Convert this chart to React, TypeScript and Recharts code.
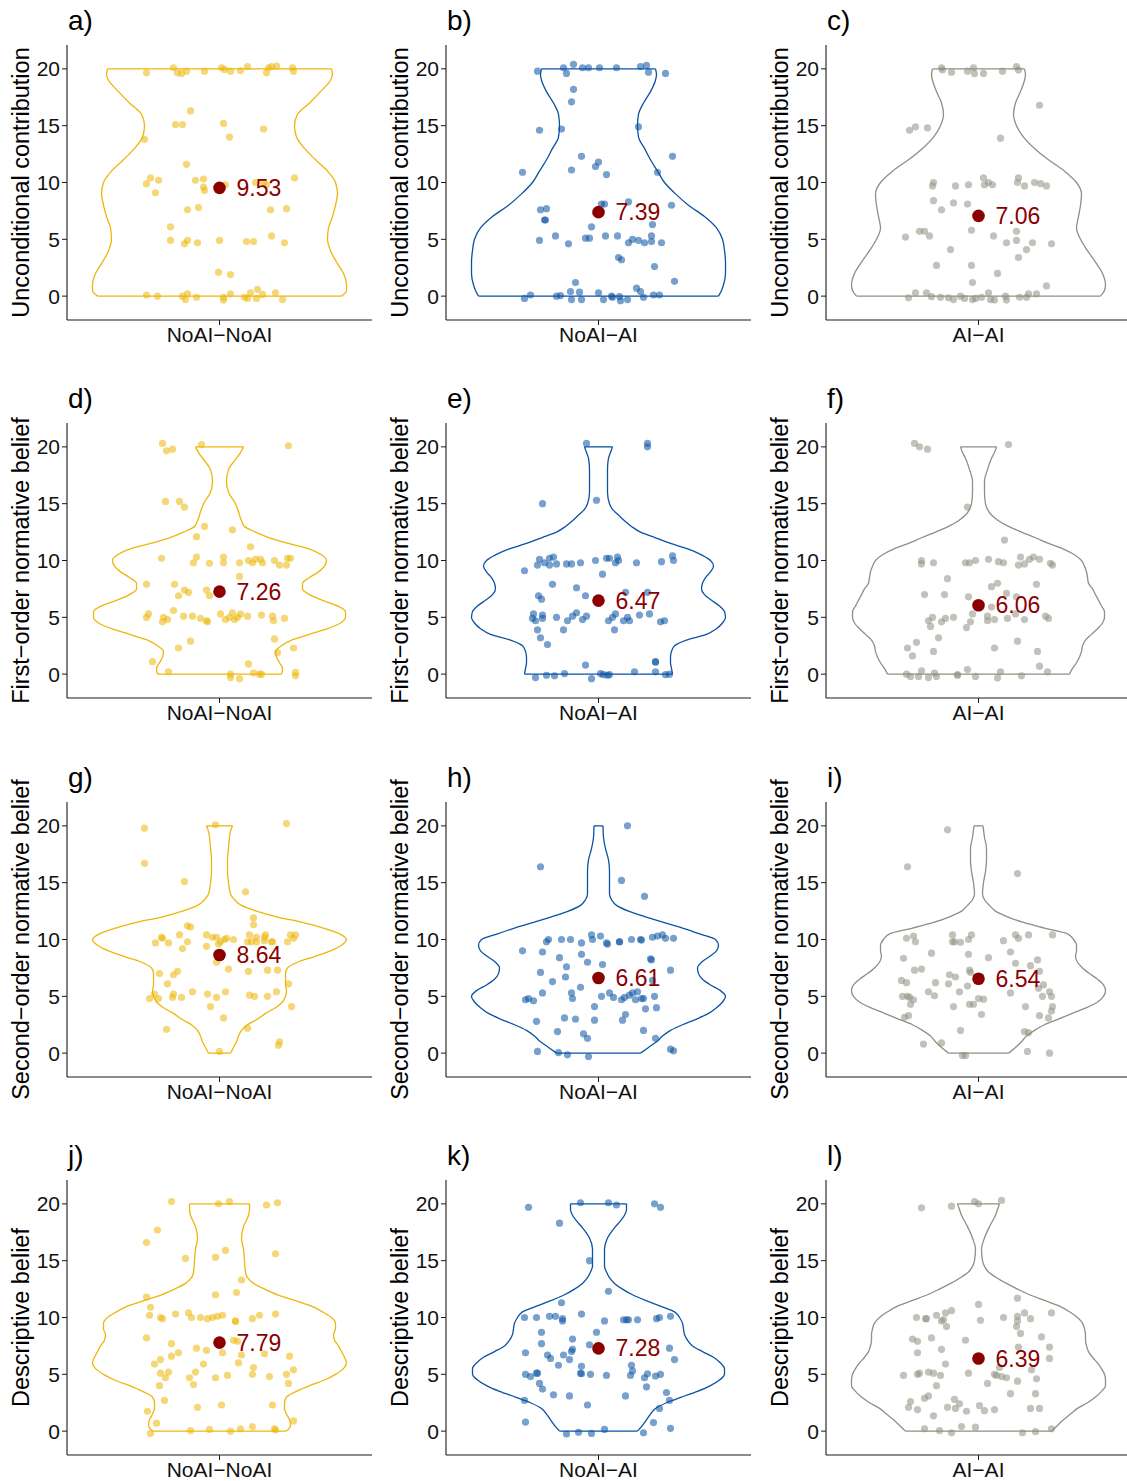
import { ComposedChart, Line, Scatter, XAxis, YAxis } from "recharts";

const FONT = '"Liberation Sans", Arial, Helvetica, sans-serif';

const GROUPS = ["NoAI\u2212NoAI", "NoAI\u2212AI", "AI\u2212AI"];
const GROUP_COLORS = ["#EDB60A", "#0A52A4", "#8F8F82"];
const MEASURES = [
  "Unconditional contribution",
  "First\u2212order normative belief",
  "Second\u2212order normative belief",
  "Descriptive belief",
];
const LETTERS = ["a)", "b)", "c)", "d)", "e)", "f)", "g)", "h)", "i)", "j)", "k)", "l)"];
const Y_TICKS = [0, 5, 10, 15, 20];
const MEANS = [9.53, 7.39, 7.06, 7.26, 6.47, 6.06, 8.64, 6.61, 6.54, 7.79, 7.28, 6.39];

// violin outlines: [score, half width]
const aViolin = [[0,122],[0.5,127],[1,127],[2,124],[3,117],[4,111],[5,108],[6,109],[7,113],[8,116],[9,118],[10,116],[11,108],[12,96],[13,85],[14,77],[15,75],[16,78],[17,90],[18,101],[19,111],[19.5,113],[20,112]];
const bViolin = [[0,120],[0.5,123],[1,125],[2,127],[3,127],[4,126],[5,124],[6,118],[7,106],[8,90],[9,77],[10,66],[11,59],[12,52],[13,46],[14,40],[15,39],[16,40],[17,45],[18,52],[19,57],[19.5,58],[20,57]];
const cViolin = [[0,122],[0.5,126],[1,127],[2,124],[3,117],[4,109],[5,102],[6,98],[7,100],[8,102],[9,103],[10,98],[11,86],[12,70],[13,56],[14,45],[15,38],[16,35],[17,37],[18,42],[19,46],[19.5,47],[20,46]];
const dViolin = [[0,62],[0.5,63],[1,60],[1.5,57],[2,56],[2.5,62],[3,72],[3.5,90],[4,108],[4.5,121],[5,126],[5.5,126],[6,118],[6.5,103],[7,90],[7.5,83],[8,83],[8.5,90],[9,99],[9.5,105],[10,107],[10.5,102],[11,90],[11.5,69],[12,50],[12.5,36],[13,25],[13.5,22],[14,20],[15,16],[16,9],[17,7],[18,9],[19,17],[19.5,21],[20,24]];
const eViolin = [[0,74],[0.5,73],[1,72],[1.5,72],[2,73],[2.5,76],[3,88],[3.5,108],[4,118],[4.5,124],[5,127],[5.5,126],[6,121],[6.5,113],[7,106],[7.5,103],[8,104],[8.5,107],[9,112],[9.5,115],[10,112],[10.5,103],[11,90],[11.5,72],[12,57],[12.5,42],[13,33],[13.5,26],[14,20],[14.5,14],[15,11],[16,9],[17,9],[18,9],[19,10],[19.5,12],[20,14]];
const fViolin = [[0,91],[0.5,94],[1,98],[1.5,101],[2,103],[2.5,104],[3,107],[3.5,113],[4,119],[4.5,124],[5,126],[5.5,126],[6,123],[6.5,120],[7,117],[7.5,114],[8,110],[8.5,109],[9,108],[9.5,106],[10,103],[10.5,96],[11,85],[11.5,70],[12,57],[12.5,43],[13,30],[13.5,20],[14,13],[14.5,9],[15,7],[16,6],[17,6],[18,9],[19,13],[19.5,16],[20,18]];
const gViolin = [[0,11],[0.5,14],[1,17],[1.5,19],[2,22],[2.5,28],[3,38],[3.5,46],[4,56],[4.5,63],[5,66],[5.5,67],[6,66],[6.5,66],[7,66],[7.5,68],[8,78],[8.5,95],[9,111],[9.5,122],[10,127],[10.5,120],[11,104],[11.5,83],[12,57],[12.5,37],[13,22],[13.5,15],[14,11],[15,9],[16,8],[17,8],[18,9],[19,10],[19.5,11],[20,13]];
const hViolin = [[0,42],[0.5,50],[1,58],[1.5,64],[2,72],[2.5,84],[3,98],[3.5,110],[4,118],[4.5,124],[5,127],[5.5,122],[6,112],[6.5,104],[7,100],[7.5,99],[8,103],[8.5,111],[9,118],[9.5,120],[10,117],[10.5,101],[11,84],[11.5,65],[12,47],[12.5,30],[13,18],[13.5,13],[14,11],[15,11],[16,11],[17,10],[18,7],[19,5],[20,4.5]];
const iViolin = [[0,30],[0.5,37],[1,43],[1.5,48],[2,56],[2.5,66],[3,80],[3.5,94],[4,108],[4.5,119],[5,125],[5.5,127],[6,125],[6.5,119],[7,111],[7.5,104],[8,99],[8.5,97],[9,98],[9.5,98],[10,95],[10.5,89],[11,66],[11.5,45],[12,29],[12.5,17],[13,11],[13.5,6],[14,4],[15,5],[16,7],[17,8],[18,8],[19,6],[20,4.5]];
const jViolin = [[0,67],[0.5,71],[1,70],[1.5,67],[2,65],[2.5,65],[3,67],[3.5,77],[4,90],[4.5,105],[5,116],[5.5,124],[6,127],[6.5,125],[7,122],[7.5,119],[8,115],[8.5,114],[9,116],[9.5,116],[10,112],[10.5,103],[11,92],[11.5,75],[12,58],[12.5,45],[13,34],[13.5,28],[14,26],[15,25],[16,24],[17,22],[18,24],[19,29],[19.5,30],[20,30]];
const kViolin = [[0,39],[0.5,44],[1,48],[1.5,52],[2,57],[2.5,68],[3,83],[3.5,99],[4,112],[4.5,121],[5,126],[5.5,126],[6,122],[6.5,115],[7,104],[7.5,94],[8,89],[8.5,86],[9,85],[9.5,84],[10,81],[10.5,76],[11,62],[11.5,47],[12,34],[12.5,24],[13,16],[13.5,11],[14,8],[14.5,6],[15,6],[16,6],[17,9],[18,17],[18.5,22],[19,26],[19.5,28],[20,28]];
const lViolin = [[0,73],[0.5,79],[1,85],[1.5,92],[2,99],[2.5,109],[3,117],[3.5,123],[4,127],[4.5,127],[5,126],[5.5,123],[6,119],[6.5,114],[7,110],[7.5,108],[8,107],[8.5,107],[9,106],[9.5,104],[10,99],[10.5,91],[11,81],[11.5,66],[12,51],[12.5,39],[13,28],[13.5,18],[14,10],[14.5,6],[15,4],[16,3],[17,6],[18,11],[19,17],[19.5,19],[20,21]];

// jittered responses: [offset, score]
const aPoints = [[-73,19.65],[-46,20.1],[-42,19.65],[-38,19.6],[-33,19.8],[-15,19.8],[2,20.1],[5,19.95],[11,19.8],[21,19.85],[28,20.2],[47,19.65],[49,20.1],[52,20.2],[57,20.25],[73,20.1],[74,19.8],[-29,16.3],[-44,15.1],[-37,15.1],[4,15.2],[10,14.0],[44,14.7],[-75,13.8],[-33,11.6],[-69,10.4],[-73,9.9],[-61,10.2],[-64,9.1],[-24,10.2],[-16,10.3],[-16,9.6],[-15,9.3],[6,9.8],[36,10.0],[44,10.0],[47,9.8],[75,10.4],[-32,7.6],[-21,7.8],[51,7.6],[67,7.7],[-49,6.1],[-49,4.9],[-35,4.6],[-32,4.9],[-22,4.7],[0,4.9],[27,4.8],[34,4.8],[52,5.3],[65,4.7],[-1,2.1],[11,1.9],[-73,0.1],[-62,0.0],[-37,0.0],[-34,-0.3],[-32,0.2],[-23,-0.1],[4,-0.1],[4,-0.35],[11,0.2],[25,-0.1],[28,-0.2],[31,0.3],[37,-0.2],[38,0.6],[43,0.15],[56,0.3],[63,-0.3]];
const bPoints = [[-61,19.8],[-35,20.1],[-32,19.6],[-25,20.4],[-16,20.1],[-10,20.1],[1,20.1],[18,20.1],[42,20.2],[48,20.3],[50,19.7],[67,19.6],[-25,18.2],[-27,17.1],[-59,14.6],[-37,14.7],[40,14.9],[-17,12.3],[0,11.8],[-3,11.4],[-27,11.1],[8,10.7],[74,12.3],[59,10.9],[-76,10.9],[3,8.1],[6,8.1],[30,8.3],[73,8.0],[-58,7.6],[-52,7.7],[-54,6.7],[-53,6.7],[-7,6.1],[54,6.3],[-59,4.9],[-43,5.3],[-30,4.6],[-13,5.1],[-9,5.1],[7,5.3],[19,5.3],[30,4.7],[34,5.0],[40,4.9],[46,4.7],[53,5.3],[53,4.8],[63,4.7],[20,3.4],[23,3.2],[56,2.6],[-23,1.2],[76,1.3],[38,0.7],[-74,-0.2],[-68,0.1],[-42,0.0],[-38,0.05],[-28,0.4],[-27,-0.3],[-19,0.35],[-17,-0.3],[0,0.3],[5,-0.3],[13,0.0],[14,-0.1],[21,-0.05],[22,-0.4],[29,-0.3],[42,0.4],[45,-0.1],[55,0.1],[61,0.1]];
const cPoints = [[-37,20.1],[-36,19.9],[-27,19.7],[-11,19.8],[-5,20.1],[-4,19.6],[5,19.6],[24,19.8],[38,20.2],[40,19.9],[61,16.8],[-69,14.6],[-63,14.9],[-51,14.8],[22,13.9],[-45,10.0],[-46,9.7],[-23,9.7],[-10,9.8],[5,10.4],[6,9.8],[10,10.0],[14,9.8],[40,10.4],[39,10.0],[46,9.7],[56,10.0],[62,9.9],[68,9.7],[-45,8.4],[-25,8.2],[-11,8.1],[-37,7.6],[-7,5.8],[-59,5.7],[-54,5.7],[-49,5.3],[-73,5.2],[15,5.3],[38,5.7],[28,4.7],[38,4.9],[54,4.7],[73,4.6],[48,4.1],[-28,4.1],[-42,2.7],[-7,2.7],[40,3.4],[19,2.0],[-6,1.2],[68,0.9],[-70,-0.15],[-63,0.3],[-52,0.3],[-47,-0.05],[-38,-0.1],[-30,-0.15],[-25,-0.3],[-18,0.0],[-14,-0.2],[-6,-0.3],[-3,-0.2],[3,-0.1],[10,0.3],[12,-0.3],[16,-0.35],[27,0.0],[28,-0.35],[41,-0.1],[48,-0.1],[50,0.2],[58,0.2]];
const dPoints = [[-57,20.3],[-53,19.65],[-47,19.8],[-18,20.2],[69,20.1],[-54,15.2],[-40,15.2],[-35,14.7],[-15,13.0],[13,12.7],[-23,12.1],[31,11.2],[-58,10.2],[-23,10.3],[-26,9.8],[-10,9.75],[4,10.3],[4,9.8],[20,9.8],[29,10.0],[33,9.8],[36,10.1],[41,10.1],[43,9.8],[55,10.0],[60,9.6],[67,9.6],[68,10.2],[71,10.2],[20,8.6],[-73,7.9],[-45,7.9],[-35,7.4],[-31,7.2],[-41,6.9],[-13,7.4],[-10,6.9],[-73,5.0],[-71,5.3],[-57,4.6],[-56,5.0],[-52,4.8],[-46,5.6],[-36,5.1],[-27,5.1],[-19,4.9],[-13,4.7],[-12,4.6],[1,5.3],[6,4.8],[10,5.0],[13,5.4],[15,4.8],[18,5.0],[21,5.3],[28,5.1],[42,5.2],[53,5.1],[54,4.7],[65,4.9],[55,3.1],[-29,2.9],[-41,2.3],[58,1.9],[74,2.3],[-67,1.1],[29,0.9],[-51,0.2],[11,0.0],[11,-0.3],[20,-0.4],[34,0.1],[40,0.0],[42,0.0],[76,0.15],[76,-0.15]];
const ePoints = [[-12,20.3],[49,20.3],[49,20.0],[-56,15.0],[-2,15.3],[-59,10.1],[-61,9.6],[-54,9.8],[-49,10.2],[-49,9.6],[-45,10.3],[-42,9.7],[-32,9.7],[-27,9.7],[-18,9.8],[-3,10.0],[8,10.2],[11,10.2],[17,9.8],[19,10.3],[20,10.0],[38,9.8],[63,9.9],[74,10.4],[75,10.0],[-74,9.1],[4,8.8],[-46,7.9],[-22,7.6],[-60,6.9],[-57,6.6],[-13,6.9],[27,7.2],[49,7.2],[-65,5.3],[-66,4.9],[-63,4.7],[-56,5.2],[-56,4.9],[-42,5.0],[-31,4.7],[-26,5.1],[-22,5.4],[-16,4.8],[-12,5.1],[10,4.7],[14,5.0],[17,5.3],[25,4.7],[29,5.0],[31,4.7],[41,5.2],[51,5.3],[62,4.6],[66,4.7],[-61,3.9],[-35,3.9],[16,3.9],[-58,3.2],[-51,2.6],[-13,0.8],[57,1.1],[57,1.05],[-63,-0.3],[-52,-0.1],[-44,-0.15],[-34,0.05],[-7,-0.4],[2,0.05],[5,-0.05],[9,-0.1],[11,-0.05],[36,0.2],[57,0.2],[67,-0.05],[71,0.0]];
const fPoints = [[-64,20.3],[-59,20.0],[-51,19.8],[30,20.2],[-11,14.7],[26,11.8],[-57,10.0],[-57,9.7],[-45,9.8],[-13,9.8],[-9,9.8],[-3,10.0],[10,10.1],[20,9.9],[25,9.8],[42,10.3],[40,9.6],[46,9.7],[51,10.1],[55,10.3],[61,10.1],[72,9.75],[74,9.6],[-31,8.4],[19,8.0],[13,7.7],[58,7.9],[-54,7.0],[-34,7.0],[-10,6.8],[28,7.1],[38,6.8],[-6,5.3],[13,5.9],[37,5.3],[9,5.1],[9,4.7],[16,4.8],[29,4.9],[46,4.8],[67,5.1],[70,4.9],[-46,5.0],[-50,4.7],[-48,4.2],[-37,4.6],[-33,4.9],[-25,5.0],[-8,4.6],[-12,4.1],[-62,2.8],[-40,3.2],[39,2.9],[-71,2.3],[-66,1.6],[-45,2.0],[16,2.3],[59,2.0],[61,0.7],[69,0.2],[-72,0.0],[-68,-0.2],[-60,-0.2],[-57,0.3],[-50,-0.3],[-44,0.1],[-42,-0.2],[-21,-0.05],[-21,-0.1],[-11,0.4],[-3,-0.2],[19,-0.35],[22,0.2],[43,-0.15]];
const gPoints = [[-75,19.8],[-4,20.1],[67,20.2],[-75,16.7],[-35,15.1],[26,14.2],[34,11.9],[34,11.3],[-32,11.2],[-29,11.1],[-58,10.2],[-57,10.1],[-64,9.7],[-51,9.7],[-40,10.4],[-32,9.8],[-37,9.2],[-13,10.4],[-13,9.4],[-7,10.2],[-3,10.2],[-1,9.6],[1,9.8],[5,10.0],[7,10.1],[14,10.0],[30,10.4],[28,9.8],[32,9.8],[37,10.2],[37,9.8],[45,10.2],[46,10.4],[45,9.9],[52,9.8],[53,9.8],[68,9.8],[71,10.4],[74,10.1],[76,10.4],[-3,8.0],[-60,7.0],[-46,6.9],[-42,7.2],[9,7.4],[29,7.2],[48,7.3],[58,7.3],[-52,6.1],[69,6.1],[-70,4.8],[-65,5.2],[-61,4.8],[-47,4.9],[-46,5.2],[-38,4.9],[-27,5.4],[-12,5.2],[-3,4.9],[6,5.4],[30,5.1],[35,5.0],[48,5.0],[57,5.4],[72,4.1],[-9,4.1],[4,3.1],[-53,2.1],[28,2.2],[60,1.0],[59,0.7],[0,0.15]];
const hPoints = [[29,20.0],[-58,16.4],[23,15.2],[46,13.8],[-52,9.8],[-50,10.0],[-37,10.0],[-28,10.0],[-17,9.7],[-7,10.4],[-6,10.0],[2,10.3],[8,9.7],[9,9.6],[21,9.8],[21,9.8],[33,10.0],[42,10.0],[43,9.95],[54,10.2],[59,10.3],[64,10.4],[67,10.1],[75,10.1],[-76,9.0],[-56,8.9],[-17,8.7],[-39,8.4],[-32,7.6],[-11,8.0],[4,7.8],[52,8.3],[53,8.2],[72,7.3],[-58,7.1],[-33,6.7],[-46,6.3],[54,6.4],[-73,4.7],[-70,4.8],[-65,4.6],[-56,5.3],[-27,5.3],[-26,4.8],[-18,5.8],[3,5.0],[11,5.3],[15,4.9],[23,4.7],[26,4.9],[31,5.1],[34,5.3],[39,5.4],[37,4.7],[43,4.8],[45,4.8],[56,5.0],[47,3.9],[58,4.0],[-4,4.1],[-62,2.8],[-34,3.1],[-23,3.0],[-4,2.9],[24,2.9],[27,3.4],[-41,1.9],[-15,1.7],[-11,1.3],[45,2.0],[57,1.3],[-61,0.15],[-40,0.05],[-31,-0.15],[-10,-0.3],[72,0.35],[75,0.2]];
const iPoints = [[-31,19.65],[-71,16.4],[39,15.8],[-72,10.1],[-65,10.3],[-63,9.8],[-26,10.4],[-26,9.8],[-24,9.8],[-18,9.75],[-10,10.0],[-7,10.4],[25,9.9],[37,10.4],[40,10.1],[50,10.4],[74,10.4],[-47,8.8],[-10,8.7],[10,8.4],[32,8.9],[-75,8.35],[37,7.9],[52,7.7],[59,8.2],[-64,7.3],[-57,7.4],[-29,6.9],[-23,6.7],[-9,7.3],[-8,7.1],[61,7.2],[-77,6.4],[-72,6.2],[-43,6.2],[-30,6.1],[-11,5.9],[65,6.0],[60,5.7],[-76,5.0],[-71,5.0],[-69,4.9],[-65,4.7],[-68,4.3],[-50,5.4],[-44,5.05],[-19,5.4],[0,4.8],[5,4.75],[-9,4.3],[-5,4.3],[-25,4.1],[32,5.3],[47,4.1],[64,5.0],[71,5.4],[73,5.0],[74,4.1],[73,3.7],[-74,3.15],[-70,3.3],[3,3.4],[61,3.3],[70,3.1],[-18,2.0],[46,1.9],[50,1.8],[-55,0.8],[-37,0.9],[49,0.15],[71,0.0],[-16,-0.2],[-13,-0.2]];
const jPoints = [[-48,20.2],[-1,20.0],[10,20.2],[47,19.9],[58,20.1],[-62,17.7],[-73,16.6],[-34,15.2],[-4,15.3],[6,15.9],[56,15.6],[22,13.3],[-4,12.0],[17,12.2],[-73,11.8],[-69,10.9],[-70,10.2],[-59,10.0],[-57,9.9],[-44,10.3],[-31,10.4],[-28,10.0],[-19,10.0],[-12,9.9],[-7,10.0],[-2,10.1],[3,10.2],[16,9.7],[16,9.65],[33,9.9],[40,10.2],[56,10.3],[-73,8.2],[-48,7.7],[14,8.0],[18,7.9],[-23,7.3],[-13,7.1],[-41,6.9],[-48,6.6],[3,6.9],[22,6.7],[45,6.8],[70,6.6],[-59,6.3],[-65,5.9],[-16,5.9],[19,6.0],[34,5.6],[-59,5.1],[-51,5.2],[-54,4.7],[-24,5.2],[-30,4.7],[-4,4.7],[8,4.9],[33,5.0],[50,4.8],[67,5.0],[74,5.4],[69,4.2],[-60,4.0],[-26,4.1],[-55,2.7],[-22,2.1],[2,2.3],[53,2.3],[-72,1.75],[-63,0.7],[74,0.9],[-69,-0.2],[-29,0.05],[-10,0.15],[11,0.0],[21,0.2],[33,0.4],[55,0.2],[56,0.1]];
const kPoints = [[-70,19.7],[-18,20.1],[10,20.1],[18,19.9],[56,20.0],[62,19.7],[-39,18.3],[-9,15.0],[10,12.3],[-37,11.3],[-74,10.0],[-62,10.0],[-49,10.1],[-43,10.1],[-36,9.9],[-36,9.7],[-17,10.3],[6,9.7],[25,9.8],[28,9.8],[30,9.8],[39,9.8],[58,9.9],[61,10.0],[72,10.1],[-57,8.7],[-2,8.7],[-57,7.7],[-26,8.1],[-9,7.6],[-26,7.2],[-27,7.0],[71,7.3],[-73,6.9],[-51,6.7],[-48,6.4],[-35,6.7],[-29,6.3],[76,6.3],[-40,5.8],[-17,5.7],[33,5.8],[34,5.3],[-73,5.0],[-68,4.8],[-62,5.1],[-61,5.1],[-18,5.1],[-17,5.05],[-8,5.0],[8,4.9],[32,4.9],[46,4.7],[49,5.05],[57,4.85],[62,5.0],[-59,4.2],[-56,3.7],[48,3.9],[68,3.4],[-74,2.7],[-45,3.2],[-29,3.1],[27,3.1],[71,2.7],[-11,2.3],[61,2.0],[-73,0.8],[55,0.75],[72,0.25],[-32,-0.25],[-20,-0.1],[-7,-0.2],[6,0.15],[45,-0.15]];
const lPoints = [[-57,19.65],[-27,19.8],[-4,20.2],[0,20.0],[23,20.3],[0,11.15],[39,11.7],[-62,10.0],[-53,9.9],[-52,9.9],[-42,10.2],[-37,9.7],[-35,9.8],[-33,10.4],[-27,10.6],[-32,9.2],[2,9.75],[25,10.0],[39,10.1],[39,9.7],[46,10.4],[52,9.9],[73,10.4],[38,9.2],[42,8.6],[-66,8.1],[-61,7.9],[-47,8.2],[-13,8.0],[63,8.3],[-61,6.9],[-37,7.2],[40,7.4],[71,7.4],[71,6.4],[-33,5.9],[21,5.6],[53,5.4],[-75,4.9],[-61,5.0],[-59,5.1],[-50,5.2],[-45,5.1],[-38,4.9],[-10,5.1],[16,5.0],[18,4.9],[23,4.8],[28,4.7],[39,4.4],[58,4.6],[9,4.2],[-42,4.0],[32,3.3],[57,3.3],[-68,2.6],[-70,2.1],[-61,1.9],[-54,2.9],[-50,3.1],[-24,2.8],[-31,2.1],[-23,2.0],[-19,2.4],[-12,1.75],[1,2.25],[6,1.8],[16,1.9],[52,2.0],[61,2.0],[-45,1.35],[-54,0.2],[-39,0.05],[-27,-0.15],[-17,0.4],[-3,0.35],[44,-0.15],[57,-0.05],[73,0.2]];

const VIOLINS = [aViolin, bViolin, cViolin, dViolin, eViolin, fViolin, gViolin, hViolin, iViolin, jViolin, kViolin, lViolin];
const POINTS = [aPoints, bPoints, cPoints, dPoints, ePoints, fPoints, gPoints, hPoints, iPoints, jPoints, kPoints, lPoints];

const COL_LEFT = [0, 379, 759];
const ROW_TOP = [0, 378, 757, 1135];
const AXIS = "#1a1a1a";
const TICK = { fill: "#111", fontSize: 21, fontFamily: FONT };

function Panel({ idx }: { idx: number }) {
  const row = Math.floor(idx / 3);
  const col = idx % 3;
  const color = GROUP_COLORS[col];
  const outline = VIOLINS[idx];
  const right = outline.map(([y, w]) => ({ x: w, y }));
  const left = outline.map(([y, w]) => ({ x: -w, y }));
  const [yLo, wLo] = outline[0];
  const [yHi, wHi] = outline[outline.length - 1];
  const bottomCap = [{ x: -wLo, y: yLo }, { x: wLo, y: yLo }];
  const topCap = [{ x: -wHi, y: yHi }, { x: wHi, y: yHi }];
  const pts = POINTS[idx].map(([x, y]) => ({ x, y }));
  const mean = [{ x: 0, y: MEANS[idx] }];
  const meanText = MEANS[idx].toFixed(2);

  return (
    <div style={{ position: "absolute", left: COL_LEFT[col], top: ROW_TOP[row], width: 375, height: 378 }}>
      <ComposedChart
        layout="vertical"
        width={375}
        height={378}
        margin={{ top: 45, right: 3, bottom: 28, left: 10 }}
      >
        <XAxis
          type="number"
          dataKey="x"
          domain={[-152.5, 152.5]}
          allowDataOverflow
          ticks={[0]}
          interval={0}
          tickFormatter={() => GROUPS[col]}
          height={30}
          tickSize={5}
          axisLine={{ stroke: AXIS, strokeWidth: 1.1 }}
          tickLine={{ stroke: AXIS }}
          tick={TICK}
        />
        <YAxis
          type="number"
          dataKey="y"
          reversed
          domain={[-2.1, 22.1]}
          allowDataOverflow
          ticks={Y_TICKS}
          interval={0}
          width={57}
          tickSize={5}
          axisLine={{ stroke: AXIS, strokeWidth: 1.1 }}
          tickLine={{ stroke: AXIS }}
          tick={TICK}
          label={() => (
            <text
              x={21}
              y={182.5}
              transform="rotate(-90 21 182.5)"
              textAnchor="middle"
              dominantBaseline="central"
              fontSize={23.5}
              fontFamily={FONT}
              fill="#000"
            >
              {MEASURES[row]}
            </text>
          )}
        />
        <Line data={right} dataKey="x" type="monotone" stroke={color} strokeWidth={1.3} dot={false} activeDot={false} isAnimationActive={false} />
        <Line data={left} dataKey="x" type="monotone" stroke={color} strokeWidth={1.3} dot={false} activeDot={false} isAnimationActive={false} />
        <Scatter data={bottomCap} line={{ stroke: color, strokeWidth: 1.3 }} shape={() => <g />} isAnimationActive={false} />
        <Scatter data={topCap} line={{ stroke: color, strokeWidth: 1.3 }} shape={() => <g />} isAnimationActive={false} />
        <Scatter
          data={pts}
          isAnimationActive={false}
          shape={(p: any) => <circle cx={p.cx} cy={p.cy} r={3.6} fill={color} fillOpacity={0.55} />}
        />
        <Scatter
          data={mean}
          isAnimationActive={false}
          shape={(p: any) => (
            <g>
              <circle cx={p.cx} cy={p.cy} r={6.3} fill="#8B0000" />
              <text x={p.cx + 17} y={p.cy} dominantBaseline="central" fontSize={23} fontFamily={FONT} fill="#8B0000">
                {meanText}
              </text>
            </g>
          )}
        />
      </ComposedChart>
      <div style={{ position: "absolute", left: 68, top: 7, fontSize: 28, lineHeight: "28px", fontFamily: FONT, color: "#000" }}>
        {LETTERS[idx]}
      </div>
    </div>
  );
}

export default function App() {
  return (
    <div
      style={{
        position: "absolute",
        left: 0,
        top: 0,
        width: 1127,
        height: 1481,
        overflow: "hidden",
        background: "#fff",
      }}
    >
      {MEANS.map((_, i) => (
        <Panel key={i} idx={i} />
      ))}
    </div>
  );
}
